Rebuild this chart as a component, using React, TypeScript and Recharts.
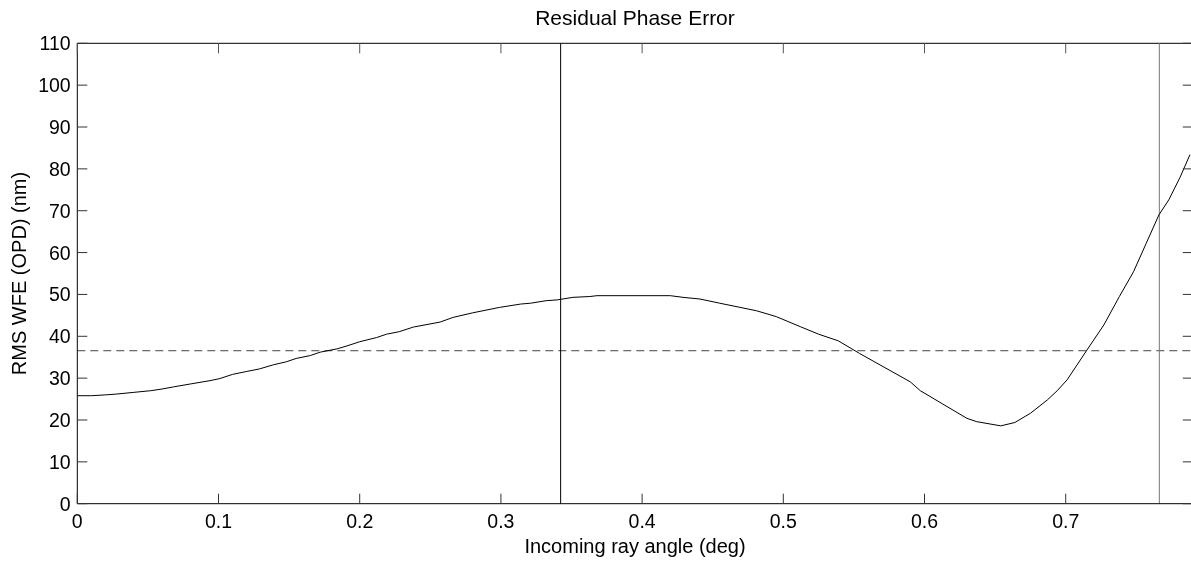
import { LineChart, Line, XAxis, YAxis, ReferenceLine } from 'recharts'

const ANGLE = [
  0, 0.01, 0.02, 0.028, 0.04, 0.052, 0.06, 0.068, 0.08, 0.094, 0.101, 0.11, 0.12, 0.129, 0.139, 0.148,
  0.155, 0.165, 0.172, 0.184, 0.191, 0.2, 0.212, 0.219, 0.228, 0.238, 0.257, 0.266, 0.28, 0.299, 0.314,
  0.321, 0.332, 0.34, 0.351, 0.363, 0.368, 0.42, 0.429, 0.441, 0.455, 0.468, 0.481, 0.495, 0.512, 0.525,
  0.539, 0.554, 0.572, 0.59, 0.597, 0.613, 0.63, 0.637, 0.654, 0.664, 0.675, 0.687, 0.694, 0.701, 0.715,
  0.727, 0.738, 0.748, 0.757, 0.766, 0.773, 0.781, 0.788,
]
const RMS = [
  25.8, 25.8, 26.0, 26.2, 26.6, 27.0, 27.4, 27.9, 28.6, 29.4, 29.9, 30.9, 31.6, 32.2, 33.2, 33.9,
  34.7, 35.4, 36.2, 37.0, 37.7, 38.7, 39.7, 40.5, 41.1, 42.2, 43.4, 44.5, 45.6, 46.9, 47.7,
  47.9, 48.5, 48.7, 49.3, 49.5, 49.7, 49.7, 49.3, 48.9, 47.9, 47.0, 46.1, 44.7, 42.3, 40.5,
  38.9, 35.9, 32.5, 29.1, 27.0, 23.8, 20.4, 19.6, 18.6, 19.4, 21.6, 24.8, 27.0, 29.6, 36.7,
  42.7, 49.5, 55.4, 62.2, 69.0, 72.6, 78.0, 83.4,
]
const X_TICKS = [0, 0.1, 0.2, 0.3, 0.4, 0.5, 0.6, 0.7]
const Y_TICKS = [0, 10, 20, 30, 40, 50, 60, 70, 80, 90, 100, 110]
const X_MAX = 0.79
const Y_MAX = 110
const MEAN_RMS = 36.55
const FIELD_EDGES = [0.3423, 0.7663]
const TITLE = 'Residual Phase Error'

const data = ANGLE.map((a, i) => ({ angle: a, rms: RMS[i] }))

// plot box in svg coords
const W = 1200
const H = 557
const M = { top: 35.3, right: 15.2, bottom: 6.3, left: 9.3 }
const Y_AXIS_W = 60
const X_AXIS_H = 55
const LEFT = M.left + Y_AXIS_W
const RIGHT = W - M.right
const TOP = M.top
const BOTTOM = H - M.bottom - X_AXIS_H
const FONT = 'Liberation Sans, Arial, Helvetica, sans-serif'

const XTick = (props: any) => {
  const cx = props.payload.coordinate
  return (
    <g>
      <line x1={cx} x2={cx} y1={BOTTOM} y2={BOTTOM - 10} stroke="#333" />
      <line x1={cx} x2={cx} y1={TOP} y2={TOP + 10} stroke="#555" />
      <text x={cx} y={BOTTOM + 24.3} textAnchor="middle" fontSize={19.5} fontFamily={FONT} fill="#000">
        {String(props.payload.value)}
      </text>
    </g>
  )
}

const YTick = (props: any) => {
  const cy = props.payload.coordinate
  return (
    <g>
      <line x1={LEFT} x2={LEFT + 10} y1={cy} y2={cy} stroke="#333" />
      <line x1={RIGHT} x2={RIGHT - 10} y1={cy} y2={cy} stroke="#333" />
      <text x={LEFT - 6.6} y={cy} dy="0.36em" textAnchor="end" fontSize={19.5} fontFamily={FONT} fill="#000">
        {String(props.payload.value)}
      </text>
    </g>
  )
}

export default function App() {
  return (
    <div style={{ position: 'fixed', left: 0, top: 0, width: 1191, height: 565, overflow: 'hidden' }}>
      <div
        style={{
          position: 'absolute',
          left: 235,
          top: 6,
          width: 800,
          textAlign: 'center',
          fontFamily: FONT,
          fontSize: 21,
          lineHeight: 'normal',
          color: '#000',
        }}
      >
        {TITLE}
      </div>
      <div style={{ position: 'absolute', left: 8, top: 8 }}>
        <LineChart width={W} height={H} data={data} margin={M}>
          <XAxis
            dataKey="angle"
            type="number"
            domain={[0, X_MAX]}
            ticks={X_TICKS}
            allowDataOverflow
            height={X_AXIS_H}
            tickLine={false}
            axisLine={{ stroke: '#000' }}
            tick={XTick}
            interval={0}
            label={{
              value: 'Incoming ray angle (deg)',
              position: 'insideBottom',
              offset: 5.4,
              style: { fontSize: 20, fontFamily: FONT, fill: '#000' },
            }}
          />
          <YAxis
            type="number"
            domain={[0, Y_MAX]}
            ticks={Y_TICKS}
            width={Y_AXIS_W}
            tickLine={false}
            axisLine={{ stroke: '#000' }}
            tick={YTick}
            interval={0}
            label={{
              value: 'RMS WFE (OPD) (nm)',
              angle: -90,
              position: 'insideLeft',
              offset: 1.7,
              style: { textAnchor: 'middle', fontSize: 20, fontFamily: FONT, fill: '#000' },
            }}
          />
          <ReferenceLine y={Y_MAX} stroke="#000" />
          <ReferenceLine x={X_MAX} stroke="#000" />
          <ReferenceLine y={MEAN_RMS} stroke="#444" strokeDasharray="8 5" />
          <ReferenceLine x={FIELD_EDGES[0]} stroke="#000" />
          <ReferenceLine x={FIELD_EDGES[1]} stroke="#777" />
          <Line
            type="linear"
            dataKey="rms"
            stroke="#000"
            strokeWidth={1}
            dot={false}
            isAnimationActive={false}
          />
        </LineChart>
      </div>
    </div>
  )
}
